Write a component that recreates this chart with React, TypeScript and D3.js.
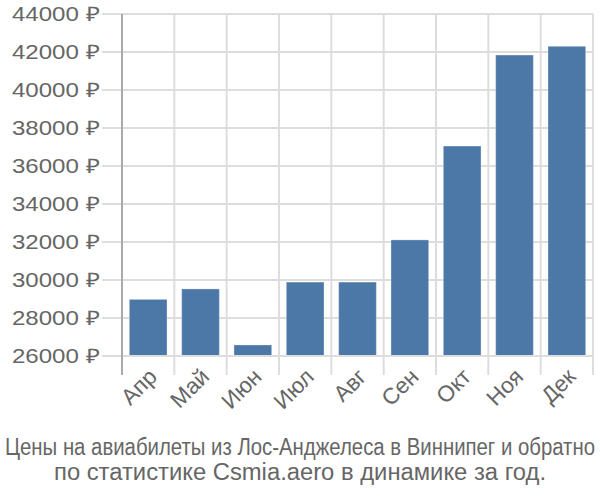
import React from 'react';
import * as d3 from 'd3';

const months = ['Апр', 'Май', 'Июн', 'Июл', 'Авг', 'Сен', 'Окт', 'Ноя', 'Дек'];
const prices = [28980, 29530, 26580, 29890, 29890, 32110, 37050, 41840, 42300];
const yTicks = [26000, 28000, 30000, 32000, 34000, 36000, 38000, 40000, 42000, 44000];
const titleLines = [
  'Цены на авиабилеты из Лос-Анджелеса в Виннипег и обратно',
  'по статистике Csmia.aero в динамике за год.',
];

const W = 600;
const H = 500;
const left = 122;
const right = 593;
const top = 14;
const bottom = 356;
const font = '"Liberation Sans", Arial, sans-serif';

function App() {
  const x = d3.scaleBand<string>().domain(months).range([left, right]).padding(0);
  const y = d3.scaleLinear().domain([26000, 44000]).range([bottom, top]);
  const bw = x.bandwidth();

  return (
    <svg width={W} height={H} style={{ position: 'absolute', left: 0, top: 0, background: '#fff' }}>
      {yTicks.map(t => (
        <g key={t}>
          <line x1={102} x2={right} y1={y(t)} y2={y(t)} stroke="#ddd" strokeWidth={2} />
          <text
            x={100}
            y={y(t)}
            dy="0.35em"
            textAnchor="end"
            fontFamily={font}
            fontSize={20}
            fill="#666"
            textLength={88}
            lengthAdjust="spacingAndGlyphs"
          >
            {t} ₽
          </text>
        </g>
      ))}
      {months.map((m, i) => (
        <line key={m} x1={x(m)!} x2={x(m)!} y1={top} y2={375} stroke={i === 0 ? '#aaa' : '#ddd'} strokeWidth={2} />
      ))}
      <line x1={right} x2={right} y1={top} y2={375} stroke="#ddd" strokeWidth={2} />
      {months.map((m, i) => (
        <rect
          key={m}
          x={x(m)! + bw * 0.14}
          width={bw * 0.72}
          y={y(prices[i])}
          height={y(26000) - y(prices[i])}
          fill="#4c78a8"
          stroke="#fff"
          strokeOpacity={0.3}
        />
      ))}
      <line x1={left} x2={right} y1={bottom} y2={bottom} stroke="#ddd" strokeWidth={2} />
      <line x1={left} x2={left} y1={top} y2={375} stroke="#aaa" strokeWidth={2} />
      {months.map(m => (
        <text
          key={m}
          transform={`translate(${x(m)! + bw / 2 - 1},${bottom + 11}) rotate(-45)`}
          textAnchor="end"
          dy="0.7em"
          fontFamily={font}
          fontSize={22.5}
          fill="#666"
        >
          {m}
        </text>
      ))}
      {titleLines.map((l, i) => (
        <text
          key={i}
          x={W / 2}
          y={455 + i * 25}
          textAnchor="middle"
          fontFamily={font}
          fontSize={23.5}
          fill="#666"
          textLength={i === 0 ? 590 : 492}
          lengthAdjust="spacingAndGlyphs"
        >
          {l}
        </text>
      ))}
    </svg>
  );
}

export default App;
